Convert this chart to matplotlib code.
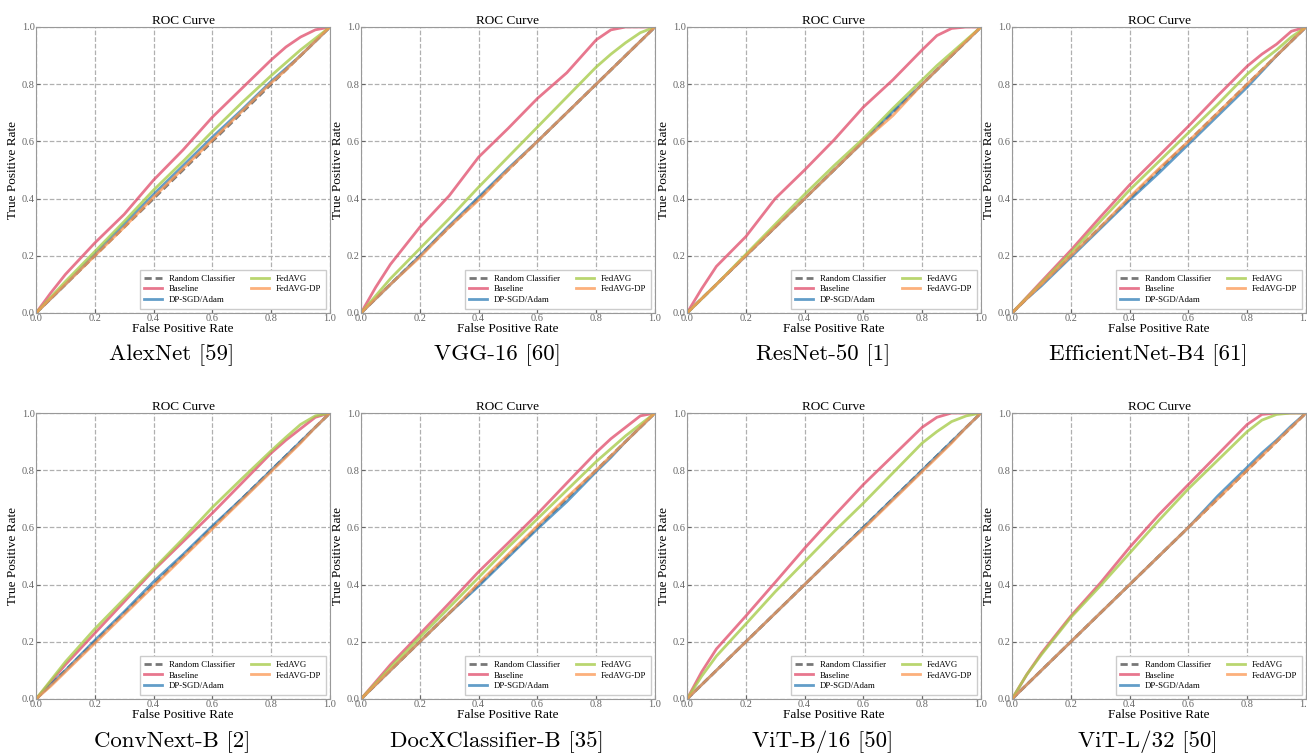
import numpy as np
import matplotlib
matplotlib.use('Agg')
from matplotlib import pyplot as plt

plt.rcParams['font.family'] = ['Liberation Serif', 'DejaVu Serif']
plt.rcParams['axes.unicode_minus'] = False

models = ['AlexNet [59]', 'VGG-16 [60]', 'ResNet-50 [1]', 'EfficientNet-B4 [61]',
          'ConvNext-B [2]', 'DocXClassifier-B [35]', 'ViT-B/16 [50]', 'ViT-L/32 [50]']

fpr = [0, .05, .1, .2, .3, .4, .5, .6, .7, .8, .85, .9, .95, 1]

# one row per model, same order as models
baseline_tpr = [
    [0, .07, .135, .245, .345, .465, .57, .685, .785, .885, .93, .965, .99, 1],
    [0, .09, .17, .30, .41, .545, .645, .75, .84, .955, .99, 1, 1, 1],
    [0, .085, .163, .267, .40, .50, .605, .72, .815, .92, .97, .995, 1, 1],
    [0, .055, .11, .219, .335, .448, .55, .653, .76, .863, .905, .94, .985, 1],
    [0, .06, .12, .23, .34, .45, .55, .65, .755, .86, .905, .945, .985, 1],
    [0, .06, .12, .227, .335, .445, .545, .647, .755, .862, .91, .95, .99, 1],
    [0, .095, .175, .29, .408, .527, .64, .75, .85, .95, .985, 1, 1, 1],
    [0, .085, .16, .29, .405, .53, .645, .75, .855, .96, .995, 1, 1, 1],
]
dpsgd_tpr = [
    [0, .05, .1, .205, .31, .415, .515, .615, .71, .81, .855, .9, .95, 1],
    [0, .05, .1, .2, .305, .405, .505, .6, .7, .8, .85, .9, .95, 1],
    [0, .05, .1, .2, .3, .4, .5, .6, .705, .8, .85, .9, .95, 1],
    [0, .05, .095, .195, .295, .395, .49, .59, .69, .79, .845, .9, .95, 1],
    [0, .05, .1, .205, .305, .41, .505, .605, .70, .8, .85, .9, .95, 1],
    [0, .05, .1, .2, .3, .395, .495, .595, .69, .795, .845, .9, .95, 1],
    [0, .05, .1, .2, .3, .4, .5, .6, .7, .8, .85, .9, .95, 1],
    [0, .05, .1, .2, .3, .4, .5, .6, .71, .81, .86, .905, .955, 1],
]
fedavg_tpr = [
    [0, .055, .11, .215, .32, .43, .53, .635, .735, .83, .875, .92, .96, 1],
    [0, .06, .12, .225, .33, .44, .545, .65, .755, .86, .905, .945, .98, 1],
    [0, .05, .1, .205, .31, .415, .515, .61, .715, .815, .865, .91, .955, 1],
    [0, .053, .105, .21, .32, .43, .53, .63, .73, .835, .88, .92, .965, 1],
    [0, .065, .13, .245, .35, .455, .56, .67, .77, .868, .915, .96, .99, 1],
    [0, .055, .11, .215, .32, .425, .53, .63, .73, .83, .875, .92, .96, 1],
    [0, .08, .15, .262, .375, .48, .585, .685, .79, .895, .935, .97, .99, 1],
    [0, .085, .155, .285, .395, .51, .625, .735, .835, .935, .975, .995, 1, 1],
]
fedavgdp_tpr = [
    [0, .05, .1, .2, .3, .405, .505, .605, .705, .805, .85, .9, .95, 1],
    [0, .05, .1, .195, .3, .395, .5, .6, .7, .8, .85, .9, .95, 1],
    [0, .05, .1, .2, .3, .4, .5, .6, .69, .8, .85, .9, .95, 1],
    [0, .05, .1, .2, .3, .405, .505, .6, .7, .8, .85, .9, .95, 1],
    [0, .045, .095, .195, .295, .395, .495, .595, .695, .795, .845, .895, .95, 1],
    [0, .05, .1, .2, .3, .405, .505, .605, .705, .8, .85, .9, .95, 1],
    [0, .05, .1, .2, .3, .4, .5, .595, .695, .795, .845, .895, .95, 1],
    [0, .05, .1, .2, .3, .4, .5, .6, .7, .8, .85, .9, .95, 1],
]

ticks = [0.0, 0.2, 0.4, 0.6, 0.8, 1.0]

fig = plt.figure(figsize=(13.07, 7.56), dpi=100)

lefts = [36, 361, 687, 1012]
bottoms = [313, 699]
for i, name in enumerate(models):
    row, col = divmod(i, 4)
    ax = fig.add_axes([lefts[col] / 1307, 1 - bottoms[row] / 756, 294 / 1307, 286 / 756])

    ax.plot([0, 1], [0, 1], color='#555555', lw=2, alpha=0.8, dashes=(2.6, 1.4),
            label='Random Classifier')
    ax.plot(fpr, baseline_tpr[i], color='#e04a68', lw=2, alpha=0.75, label='Baseline')
    ax.plot(fpr, dpsgd_tpr[i], color='#2f7db6', lw=2, alpha=0.75, label='DP-SGD/Adam')
    ax.plot(fpr, fedavg_tpr[i], color='#a8cc4c', lw=2, alpha=0.8, label='FedAVG')
    ax.plot(fpr, fedavgdp_tpr[i], color='#fb9650', lw=2, alpha=0.75, label='FedAVG-DP')

    ax.set_xlim(0, 1)
    ax.set_ylim(0, 1)
    ax.set_xticks(ticks)
    ax.set_yticks(ticks)
    ax.grid(True, ls='--', color='#b0b0b0', lw=0.9)
    ax.tick_params(direction='in', labelsize=7.5, colors='#666666', length=3, pad=1)
    for s in ax.spines.values():
        s.set_color('#999999')
    ax.set_title('ROC Curve', fontsize=9.5, pad=2)
    ax.set_xlabel('False Positive Rate', fontsize=9.5, labelpad=0)
    ax.set_ylabel('True Positive Rate', fontsize=9.5, labelpad=2)
    ax.legend(loc='lower right', ncol=2, fontsize=6.3, handlelength=2.0,
              columnspacing=1.9, edgecolor='#cccccc', framealpha=1, fancybox=False,
              borderpad=0.5, labelspacing=0.3, handletextpad=0.8)

    # caption sits under the whole panel, ylabel included
    cx = (lefts[col] + 136) / 1307
    cy = 1 - (355 if row == 0 else 742) / 756
    fig.text(cx, cy, name, ha='center', va='center', fontsize=16.5, family='cmr10')

fig.savefig('out.png', dpi=100)
